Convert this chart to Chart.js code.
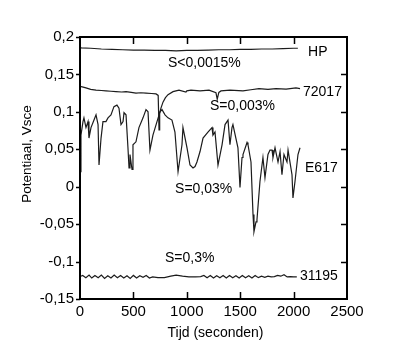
<!DOCTYPE html>
<html>
<head>
<meta charset="utf-8">
<script src="https://cdn.jsdelivr.net/npm/chart.js@4/dist/chart.umd.min.js"></script>
<style>
html,body{margin:0;padding:0;background:#fff;}
#wrap{width:400px;height:357px;}
</style>
</head>
<body>
<div id="wrap"><canvas id="c" width="400" height="357"></canvas></div>
<script>
// ---- data (time in s, potential in V vs SCE) ----
const hpT = [0, 10, 100, 200, 300, 400, 500, 600, 700, 800, 900, 1000, 1100, 1200, 1300, 1400, 1500, 1600, 1700, 1800, 1900, 2000, 2040];
const hpV = [0.187, 0.1855, 0.185, 0.184, 0.1835, 0.183, 0.1825, 0.1825, 0.182, 0.182, 0.1815, 0.182, 0.182, 0.1825, 0.183, 0.183, 0.1835, 0.1835, 0.184, 0.184, 0.1845, 0.185, 0.185];

const s72017T = [0, 30, 56, 100, 150, 200, 243, 290, 337, 390, 431, 480, 524, 570, 618, 670, 712, 732, 740, 746, 758, 777, 800, 824, 871, 927, 992, 1000, 1039, 1124, 1208, 1273, 1285, 1300, 1320, 1404, 1526, 1600, 1676, 1760, 1835, 1930, 2022, 2060];
const s72017V = [0.134, 0.133, 0.132, 0.130, 0.129, 0.1285, 0.128, 0.1275, 0.127, 0.1265, 0.127, 0.126, 0.125, 0.1255, 0.125, 0.1245, 0.124, 0.122, 0.076, 0.098, 0.105, 0.113, 0.119, 0.123, 0.127, 0.129, 0.1265, 0.128, 0.129, 0.128, 0.129, 0.1255, 0.117, 0.126, 0.128, 0.129, 0.128, 0.1295, 0.131, 0.130, 0.131, 0.1305, 0.132, 0.131];

const e617T = [0, 9, 28, 37, 56, 75, 84, 103, 131, 150, 169, 178, 197, 215, 243, 262, 290, 318, 346, 365, 384, 403, 412, 431, 449, 459, 468, 487, 496, 524, 552, 590, 618, 637, 655, 683, 721, 749, 768, 796, 824, 861, 889, 918, 955, 964, 1002, 1030, 1058, 1077, 1095, 1124, 1152, 1198, 1236, 1245, 1264, 1292, 1330, 1358, 1386, 1404, 1423, 1432, 1479, 1498, 1517, 1526, 1564, 1573, 1601, 1620, 1629, 1648, 1657, 1685, 1713, 1732, 1760, 1779, 1798, 1807, 1826, 1854, 1873, 1891, 1910, 1938, 1948, 1985, 1994, 2013, 2041, 2060];
const e617V = [0.020, 0.069, 0.087, 0.092, 0.079, 0.087, 0.065, 0.079, 0.089, 0.096, 0.083, 0.029, 0.065, 0.087, 0.087, 0.092, 0.096, 0.107, 0.109, 0.105, 0.083, 0.087, 0.099, 0.096, 0.052, 0.025, 0.043, 0.023, 0.056, 0.060, 0.079, 0.092, 0.103, 0.100, 0.049, 0.069, 0.087, 0.100, 0.103, 0.096, 0.092, 0.089, 0.073, 0.020, 0.056, 0.079, 0.052, 0.029, 0.025, 0.027, 0.033, 0.047, 0.065, 0.073, 0.079, 0.069, 0.073, 0.029, 0.056, 0.083, 0.089, 0.056, 0.079, 0.083, 0.052, -0.001, 0.039, 0.043, 0.059, 0.056, 0.033, -0.037, -0.060, -0.047, -0.044, 0.007, 0.039, 0.012, 0.043, 0.049, 0.049, 0.039, 0.052, 0.033, 0.047, 0.016, 0.043, 0.033, 0.049, 0.016, -0.015, 0.007, 0.043, 0.052];

const s31195T = [0, 25, 55, 85, 110, 140, 170, 200, 230, 260, 290, 320, 350, 380, 410, 440, 470, 500, 530, 560, 590, 620, 650, 680, 730, 790, 850, 900, 960, 1020, 1080, 1130, 1160, 1190, 1220, 1250, 1280, 1310, 1340, 1370, 1400, 1430, 1460, 1490, 1520, 1550, 1580, 1610, 1640, 1670, 1700, 1730, 1760, 1790, 1820, 1850, 1880, 1910, 1940, 1970, 2000, 2030];
const s31195V = [-0.120, -0.1185, -0.1215, -0.118, -0.122, -0.1185, -0.1215, -0.118, -0.1225, -0.119, -0.122, -0.118, -0.1215, -0.1185, -0.122, -0.119, -0.1225, -0.1185, -0.122, -0.119, -0.121, -0.1185, -0.122, -0.1205, -0.1215, -0.1215, -0.1195, -0.118, -0.1195, -0.1205, -0.1205, -0.120, -0.1185, -0.1215, -0.1185, -0.122, -0.119, -0.1215, -0.1185, -0.122, -0.1185, -0.1215, -0.119, -0.122, -0.1185, -0.1215, -0.119, -0.122, -0.1185, -0.1215, -0.1195, -0.121, -0.1195, -0.1205, -0.120, -0.1185, -0.1195, -0.1175, -0.1205, -0.120, -0.1205, -0.1205];

const xTicks = [0, 500, 1000, 1500, 2000, 2500];
const yTicks = [-0.15, -0.1, -0.05, 0, 0.05, 0.1, 0.15, 0.2];

// annotation texts: [text, time, potential] (left edge, vertical centre)
const noteText = ["HP", "72017", "E617", "31195", "S<0,0015%", "S=0,003%", "S=0,03%", "S=0,3%"];
const noteT = [2135, 2088, 2107, 2060, 824, 1217, 890, 796];
const noteV = [0.180, 0.127, 0.025, -0.119, 0.165, 0.107, -0.003, -0.095];

const xTitle = "Tijd (seconden)";
const yTitle = "Potentiaal, Vsce";

function pts(t, v) { return t.map((x, i) => ({x: x, y: v[i]})); }
function fmt(v) { return String(Number(v.toFixed(2))).replace('.', ','); }

const lineStyle = {borderColor: '#1c1c1c', borderWidth: 1.2, pointRadius: 0, fill: false, tension: 0};

const framePlugin = {
  id: 'frame',
  afterDraw(chart) {
    const ctx = chart.ctx, a = chart.chartArea;
    const xs = chart.scales.x, ys = chart.scales.y;
    ctx.save();
    ctx.strokeStyle = '#000';
    ctx.lineWidth = 2;
    ctx.strokeRect(a.left, a.top, a.right - a.left, a.bottom - a.top);
    ctx.lineWidth = 1.5;
    ctx.beginPath();
    xTicks.forEach(t => {
      const px = Math.round(xs.getPixelForValue(t)) + 0.5;
      if (t > xs.min && t < xs.max) {
        ctx.moveTo(px, a.bottom); ctx.lineTo(px, a.bottom - 7);
        ctx.moveTo(px, a.top); ctx.lineTo(px, a.top + 7);
      }
    });
    yTicks.forEach(v => {
      const py = Math.round(ys.getPixelForValue(v)) + 0.5;
      ctx.moveTo(a.left, py); ctx.lineTo(a.left - 4, py);
      if (v > ys.min + 1e-9 && v < ys.max - 1e-9) {
        ctx.moveTo(a.right, py); ctx.lineTo(a.right - 6, py);
      }
    });
    ctx.stroke();
    // annotations
    ctx.fillStyle = '#000';
    ctx.font = '14px "Liberation Sans", Arial, sans-serif';
    ctx.textAlign = 'left';
    ctx.textBaseline = 'middle';
    noteText.forEach((s, i) => {
      ctx.fillText(s, xs.getPixelForValue(noteT[i]), ys.getPixelForValue(noteV[i]));
    });
    // axis titles
    ctx.textAlign = 'center';
    ctx.font = '14px "Liberation Sans", Arial, sans-serif';
    ctx.fillText(xTitle, (a.left + a.right) / 2 + 2, 333);
    ctx.translate(27, 154);
    ctx.rotate(-Math.PI / 2);
    ctx.font = '13.5px "Liberation Sans", Arial, sans-serif';
    ctx.fillText(yTitle, 0, 0);
    ctx.restore();
  }
};

new Chart(document.getElementById('c'), {
  type: 'line',
  data: {
    datasets: [
      Object.assign({label: 'HP', data: pts(hpT, hpV)}, lineStyle),
      Object.assign({label: '72017', data: pts(s72017T, s72017V)}, lineStyle),
      Object.assign({label: 'E617', data: pts(e617T, e617V)}, lineStyle),
      Object.assign({label: '31195', data: pts(s31195T, s31195V)}, lineStyle)
    ]
  },
  options: {
    responsive: false,
    animation: false,
    layout: {padding: {left: 0, right: 53, top: 37, bottom: 0}},
    plugins: {legend: {display: false}, tooltip: {enabled: false}},
    scales: {
      x: {
        type: 'linear', min: 0, max: 2500,
        afterBuildTicks: s => { s.ticks = xTicks.map(v => ({value: v})); },
        afterFit: s => { s.height = 58; },
        grid: {display: false, drawTicks: false},
        border: {display: false},
        ticks: {color: '#000', padding: 4, maxRotation: 0, callback: v => String(v),
          font: {family: '"Liberation Sans", Arial, sans-serif', size: 15}}
      },
      y: {
        type: 'linear', min: -0.15, max: 0.2,
        afterBuildTicks: s => { s.ticks = yTicks.map(v => ({value: v})); },
        afterFit: s => { s.width = 80; },
        grid: {display: false, drawTicks: false},
        border: {display: false},
        ticks: {color: '#000', padding: 6, callback: v => fmt(v),
          font: {family: '"Liberation Sans", Arial, sans-serif', size: 15}}
      }
    }
  },
  plugins: [framePlugin]
});
</script>
</body>
</html>
